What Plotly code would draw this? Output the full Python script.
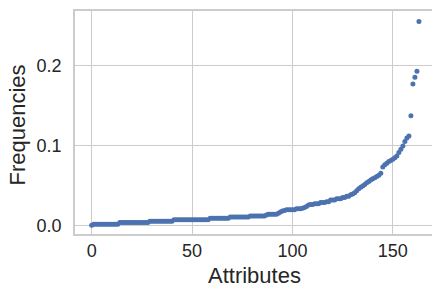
import plotly.graph_objects as go

frequencies = [
    0.0, 0.0013, 0.0013, 0.0013, 0.0013, 0.0013, 0.0013, 0.0013, 0.0013, 0.0013,
    0.0013, 0.0013, 0.0013, 0.0013, 0.0033, 0.0033, 0.0033, 0.0033, 0.0033, 0.0033,
    0.0033, 0.0033, 0.0033, 0.0033, 0.0033, 0.0033, 0.0033, 0.0033, 0.0033, 0.005,
    0.005, 0.005, 0.005, 0.005, 0.005, 0.005, 0.005, 0.005, 0.005, 0.005,
    0.005, 0.0067, 0.0067, 0.0067, 0.0067, 0.0067, 0.0067, 0.0067, 0.0067, 0.0067,
    0.0067, 0.0067, 0.0067, 0.0067, 0.0067, 0.0067, 0.0067, 0.0067, 0.0067, 0.0087,
    0.0087, 0.0087, 0.0087, 0.0087, 0.0087, 0.0087, 0.0087, 0.0087, 0.0087, 0.0104,
    0.0104, 0.0104, 0.0104, 0.0104, 0.0104, 0.0104, 0.0104, 0.0104, 0.0104, 0.0116,
    0.0116, 0.0116, 0.0116, 0.0116, 0.0116, 0.0116, 0.0116, 0.0128, 0.0138, 0.0138,
    0.0138, 0.0138, 0.0138, 0.015, 0.0165, 0.0178, 0.0183, 0.0193, 0.0193, 0.0193,
    0.0193, 0.0193, 0.0205, 0.0205, 0.0205, 0.0213, 0.022, 0.0235, 0.0252, 0.0258,
    0.0258, 0.0268, 0.0268, 0.0268, 0.0283, 0.0283, 0.0283, 0.0295, 0.0295, 0.0315,
    0.0315, 0.0315, 0.033, 0.033, 0.033, 0.0346, 0.0346, 0.0362, 0.0362, 0.038,
    0.039, 0.0405, 0.043, 0.0455, 0.0475, 0.049, 0.051, 0.053, 0.0546, 0.0565,
    0.058, 0.0595, 0.061, 0.0625, 0.065, 0.0728, 0.0755, 0.0775, 0.0796, 0.081,
    0.0825, 0.0845, 0.0865, 0.091, 0.095, 0.099, 0.1046, 0.109, 0.1117, 0.137,
    0.1767, 0.185, 0.1925, 0.255,
]
attributes = list(range(len(frequencies)))

x_ticks = [0, 50, 100, 150]
y_ticks = [0.0, 0.1, 0.2]
y_tick_labels = ["0.0", "0.1", "0.2"]
x_title = "Attributes"
y_title = "Frequencies"

fig = go.Figure(
    go.Scatter(
        x=attributes,
        y=frequencies,
        mode="markers",
        marker=dict(color="#4c72b0", size=5, line=dict(width=0)),
        hoverinfo="x+y",
    )
)

grid = "#cccccc"
family = "Liberation Sans, Arial, sans-serif"
tick_font = dict(family=family, size=18, color="#262626")
title_font = dict(family=family, size=22, color="#262626")

fig.update_layout(
    width=432,
    height=284,
    margin=dict(l=75, r=0, t=11, b=50),
    paper_bgcolor="white",
    plot_bgcolor="white",
    showlegend=False,
    xaxis=dict(
        range=[-8.3, 169.5],
        tickvals=x_ticks,
        ticktext=[str(v) for v in x_ticks],
        showgrid=True,
        gridcolor=grid,
        gridwidth=1,
        zeroline=False,
        showline=True,
        linecolor=grid,
        linewidth=1.5,
        mirror=True,
        ticks="",
        ticklabelstandoff=0,
        tickfont=tick_font,
        automargin=False,
    ),
    yaxis=dict(
        range=[-0.011, 0.268],
        tickvals=y_ticks,
        ticktext=y_tick_labels,
        showgrid=True,
        gridcolor=grid,
        gridwidth=1,
        zeroline=False,
        showline=True,
        linecolor=grid,
        linewidth=1.5,
        mirror=False,
        ticks="",
        ticklabelstandoff=8,
        tickfont=tick_font,
        automargin=False,
    ),
    annotations=[
        dict(
            text=x_title, xref="paper", yref="paper",
            x=0.504, y=-0.184, xanchor="center", yanchor="middle",
            showarrow=False, font=title_font,
        ),
        dict(
            text=y_title, xref="paper", yref="paper",
            x=-0.161, y=0.489, xanchor="center", yanchor="middle",
            textangle=-90, showarrow=False, font=title_font,
        ),
    ],
)

fig.write_html(
    "out.html",
    config={"displayModeBar": False},
    post_script="document.body.style.margin='0';document.body.style.overflow='hidden';",
)
